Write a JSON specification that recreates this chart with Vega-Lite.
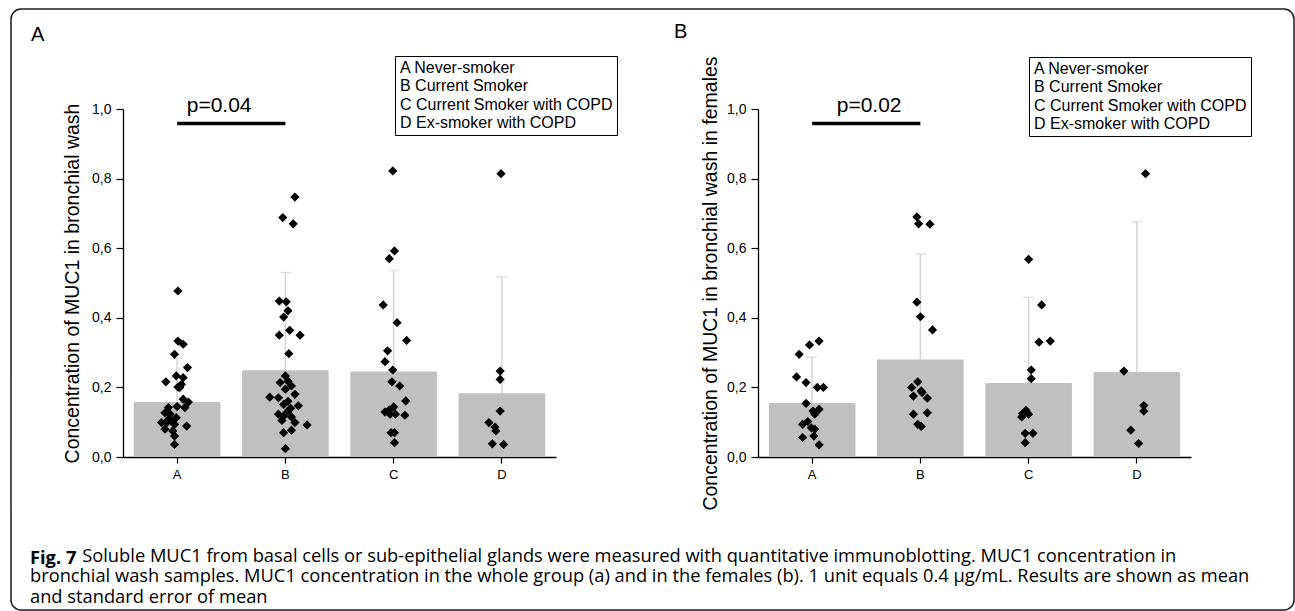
{
  "$schema": "https://vega.github.io/schema/vega-lite/v6.json",
  "autosize": {"type": "pad"},
  "padding": {"left": 10, "top": 8, "right": 1, "bottom": 1},
  "background": "white",
  "datasets": {
    "bars": [
      {"p": "A", "g": "A", "mean": 0.158, "upper": 0.283},
      {"p": "A", "g": "B", "mean": 0.249, "upper": 0.530},
      {"p": "A", "g": "C", "mean": 0.246, "upper": 0.536},
      {"p": "A", "g": "D", "mean": 0.183, "upper": 0.518},
      {"p": "B", "g": "A", "mean": 0.155, "upper": 0.287},
      {"p": "B", "g": "B", "mean": 0.280, "upper": 0.583},
      {"p": "B", "g": "C", "mean": 0.213, "upper": 0.459},
      {"p": "B", "g": "D", "mean": 0.244, "upper": 0.676}
    ],
    "signif": [
      {"p": "A", "g": "A", "g2": "B", "y": 0.958, "ty": 0.99, "label": "p=0.04"},
      {"p": "B", "g": "A", "g2": "B", "y": 0.958, "ty": 0.99, "label": "p=0.02"}
    ],
    "points": [
      {"p": "A", "g": "A", "v": 0.477, "j": 0.01},
      {"p": "A", "g": "A", "v": 0.333, "j": 0.01},
      {"p": "A", "g": "A", "v": 0.324, "j": 0.07},
      {"p": "A", "g": "A", "v": 0.295, "j": -0.03},
      {"p": "A", "g": "A", "v": 0.257, "j": 0.12},
      {"p": "A", "g": "A", "v": 0.233, "j": -0.01},
      {"p": "A", "g": "A", "v": 0.228, "j": 0.07},
      {"p": "A", "g": "A", "v": 0.216, "j": -0.13},
      {"p": "A", "g": "A", "v": 0.209, "j": 0.05},
      {"p": "A", "g": "A", "v": 0.201, "j": 0.01},
      {"p": "A", "g": "A", "v": 0.200, "j": 0.03},
      {"p": "A", "g": "A", "v": 0.166, "j": 0.07},
      {"p": "A", "g": "A", "v": 0.158, "j": 0.13},
      {"p": "A", "g": "A", "v": 0.145, "j": 0.0},
      {"p": "A", "g": "A", "v": 0.142, "j": 0.09},
      {"p": "A", "g": "A", "v": 0.142, "j": -0.10},
      {"p": "A", "g": "A", "v": 0.127, "j": -0.14},
      {"p": "A", "g": "A", "v": 0.123, "j": -0.08},
      {"p": "A", "g": "A", "v": 0.113, "j": -0.01},
      {"p": "A", "g": "A", "v": 0.108, "j": -0.10},
      {"p": "A", "g": "A", "v": 0.103, "j": -0.07},
      {"p": "A", "g": "A", "v": 0.099, "j": -0.18},
      {"p": "A", "g": "A", "v": 0.099, "j": -0.12},
      {"p": "A", "g": "A", "v": 0.094, "j": -0.03},
      {"p": "A", "g": "A", "v": 0.089, "j": 0.11},
      {"p": "A", "g": "A", "v": 0.080, "j": -0.14},
      {"p": "A", "g": "A", "v": 0.075, "j": -0.05},
      {"p": "A", "g": "A", "v": 0.060, "j": -0.03},
      {"p": "A", "g": "A", "v": 0.036, "j": -0.03},
      {"p": "A", "g": "B", "v": 0.747, "j": 0.11},
      {"p": "A", "g": "B", "v": 0.688, "j": -0.03},
      {"p": "A", "g": "B", "v": 0.670, "j": 0.09},
      {"p": "A", "g": "B", "v": 0.448, "j": -0.07},
      {"p": "A", "g": "B", "v": 0.446, "j": 0.01},
      {"p": "A", "g": "B", "v": 0.420, "j": 0.03},
      {"p": "A", "g": "B", "v": 0.402, "j": -0.02},
      {"p": "A", "g": "B", "v": 0.364, "j": 0.05},
      {"p": "A", "g": "B", "v": 0.350, "j": -0.07},
      {"p": "A", "g": "B", "v": 0.350, "j": 0.17},
      {"p": "A", "g": "B", "v": 0.297, "j": 0.04},
      {"p": "A", "g": "B", "v": 0.233, "j": 0.0},
      {"p": "A", "g": "B", "v": 0.218, "j": 0.03},
      {"p": "A", "g": "B", "v": 0.214, "j": -0.06},
      {"p": "A", "g": "B", "v": 0.204, "j": 0.07},
      {"p": "A", "g": "B", "v": 0.195, "j": 0.0},
      {"p": "A", "g": "B", "v": 0.180, "j": 0.11},
      {"p": "A", "g": "B", "v": 0.172, "j": -0.18},
      {"p": "A", "g": "B", "v": 0.170, "j": -0.08},
      {"p": "A", "g": "B", "v": 0.160, "j": 0.03},
      {"p": "A", "g": "B", "v": 0.151, "j": -0.02},
      {"p": "A", "g": "B", "v": 0.147, "j": 0.15},
      {"p": "A", "g": "B", "v": 0.140, "j": 0.06},
      {"p": "A", "g": "B", "v": 0.132, "j": 0.03},
      {"p": "A", "g": "B", "v": 0.123, "j": -0.08},
      {"p": "A", "g": "B", "v": 0.118, "j": -0.02},
      {"p": "A", "g": "B", "v": 0.115, "j": 0.07},
      {"p": "A", "g": "B", "v": 0.105, "j": -0.04},
      {"p": "A", "g": "B", "v": 0.099, "j": 0.11},
      {"p": "A", "g": "B", "v": 0.092, "j": 0.25},
      {"p": "A", "g": "B", "v": 0.077, "j": 0.07},
      {"p": "A", "g": "B", "v": 0.070, "j": -0.02},
      {"p": "A", "g": "B", "v": 0.024, "j": 0.0},
      {"p": "A", "g": "C", "v": 0.822, "j": -0.01},
      {"p": "A", "g": "C", "v": 0.592, "j": 0.01},
      {"p": "A", "g": "C", "v": 0.570, "j": -0.05},
      {"p": "A", "g": "C", "v": 0.437, "j": -0.12},
      {"p": "A", "g": "C", "v": 0.386, "j": 0.04},
      {"p": "A", "g": "C", "v": 0.335, "j": 0.15},
      {"p": "A", "g": "C", "v": 0.305, "j": -0.07},
      {"p": "A", "g": "C", "v": 0.274, "j": -0.10},
      {"p": "A", "g": "C", "v": 0.250, "j": -0.01},
      {"p": "A", "g": "C", "v": 0.216, "j": -0.02},
      {"p": "A", "g": "C", "v": 0.204, "j": 0.07},
      {"p": "A", "g": "C", "v": 0.161, "j": 0.14},
      {"p": "A", "g": "C", "v": 0.144, "j": 0.0},
      {"p": "A", "g": "C", "v": 0.135, "j": -0.05},
      {"p": "A", "g": "C", "v": 0.129, "j": -0.10},
      {"p": "A", "g": "C", "v": 0.123, "j": -0.04},
      {"p": "A", "g": "C", "v": 0.123, "j": 0.02},
      {"p": "A", "g": "C", "v": 0.120, "j": 0.13},
      {"p": "A", "g": "C", "v": 0.070, "j": -0.03},
      {"p": "A", "g": "C", "v": 0.070, "j": 0.01},
      {"p": "A", "g": "C", "v": 0.041, "j": 0.01},
      {"p": "A", "g": "D", "v": 0.814, "j": -0.01},
      {"p": "A", "g": "D", "v": 0.247, "j": -0.02},
      {"p": "A", "g": "D", "v": 0.223, "j": -0.02},
      {"p": "A", "g": "D", "v": 0.132, "j": -0.02},
      {"p": "A", "g": "D", "v": 0.099, "j": -0.15},
      {"p": "A", "g": "D", "v": 0.086, "j": -0.08},
      {"p": "A", "g": "D", "v": 0.075, "j": -0.07},
      {"p": "A", "g": "D", "v": 0.038, "j": -0.11},
      {"p": "A", "g": "D", "v": 0.036, "j": 0.02},
      {"p": "B", "g": "A", "v": 0.333, "j": 0.08},
      {"p": "B", "g": "A", "v": 0.322, "j": -0.03},
      {"p": "B", "g": "A", "v": 0.295, "j": -0.15},
      {"p": "B", "g": "A", "v": 0.230, "j": -0.18},
      {"p": "B", "g": "A", "v": 0.214, "j": -0.07},
      {"p": "B", "g": "A", "v": 0.200, "j": 0.06},
      {"p": "B", "g": "A", "v": 0.200, "j": 0.13},
      {"p": "B", "g": "A", "v": 0.154, "j": -0.07},
      {"p": "B", "g": "A", "v": 0.137, "j": 0.08},
      {"p": "B", "g": "A", "v": 0.132, "j": 0.01},
      {"p": "B", "g": "A", "v": 0.123, "j": 0.03},
      {"p": "B", "g": "A", "v": 0.102, "j": -0.05},
      {"p": "B", "g": "A", "v": 0.094, "j": -0.11},
      {"p": "B", "g": "A", "v": 0.084, "j": -0.01},
      {"p": "B", "g": "A", "v": 0.080, "j": 0.03},
      {"p": "B", "g": "A", "v": 0.060, "j": 0.02},
      {"p": "B", "g": "A", "v": 0.056, "j": -0.11},
      {"p": "B", "g": "A", "v": 0.035, "j": 0.08},
      {"p": "B", "g": "B", "v": 0.690, "j": -0.04},
      {"p": "B", "g": "B", "v": 0.670, "j": -0.02},
      {"p": "B", "g": "B", "v": 0.669, "j": 0.11},
      {"p": "B", "g": "B", "v": 0.445, "j": -0.04},
      {"p": "B", "g": "B", "v": 0.403, "j": 0.0},
      {"p": "B", "g": "B", "v": 0.365, "j": 0.14},
      {"p": "B", "g": "B", "v": 0.216, "j": -0.03},
      {"p": "B", "g": "B", "v": 0.200, "j": -0.10},
      {"p": "B", "g": "B", "v": 0.190, "j": 0.01},
      {"p": "B", "g": "B", "v": 0.185, "j": 0.02},
      {"p": "B", "g": "B", "v": 0.175, "j": -0.08},
      {"p": "B", "g": "B", "v": 0.169, "j": 0.08},
      {"p": "B", "g": "B", "v": 0.127, "j": 0.08},
      {"p": "B", "g": "B", "v": 0.123, "j": -0.08},
      {"p": "B", "g": "B", "v": 0.094, "j": -0.03},
      {"p": "B", "g": "B", "v": 0.088, "j": 0.01},
      {"p": "B", "g": "C", "v": 0.568, "j": 0.0},
      {"p": "B", "g": "C", "v": 0.437, "j": 0.15},
      {"p": "B", "g": "C", "v": 0.333, "j": 0.25},
      {"p": "B", "g": "C", "v": 0.330, "j": 0.12},
      {"p": "B", "g": "C", "v": 0.250, "j": 0.03},
      {"p": "B", "g": "C", "v": 0.225, "j": 0.03},
      {"p": "B", "g": "C", "v": 0.134, "j": -0.03},
      {"p": "B", "g": "C", "v": 0.125, "j": -0.07},
      {"p": "B", "g": "C", "v": 0.123, "j": 0.0},
      {"p": "B", "g": "C", "v": 0.115, "j": -0.08},
      {"p": "B", "g": "C", "v": 0.068, "j": -0.04},
      {"p": "B", "g": "C", "v": 0.068, "j": 0.05},
      {"p": "B", "g": "C", "v": 0.041, "j": -0.04},
      {"p": "B", "g": "D", "v": 0.814, "j": 0.10},
      {"p": "B", "g": "D", "v": 0.247, "j": -0.15},
      {"p": "B", "g": "D", "v": 0.148, "j": 0.08},
      {"p": "B", "g": "D", "v": 0.132, "j": 0.08},
      {"p": "B", "g": "D", "v": 0.077, "j": -0.07},
      {"p": "B", "g": "D", "v": 0.039, "j": 0.02}
    ]
  },
  "vconcat": [
    {
      "hconcat": [
        {
          "width": 112,
          "height": 1,
          "view": {"stroke": null},
          "data": {"values": []},
          "mark": "point"
        },
        {
          "vconcat": [
            {
              "width": 1,
              "height": 100,
              "view": {"stroke": null},
              "data": {"values": []},
              "mark": "point"
            },
            {
              "hconcat": [
                {
                  "width": 433,
                  "height": 348,
                  "view": {"stroke": null},
                  "title": {"text": "A", "anchor": "start", "frame": "group", "baseline": "alphabetic", "dx": -92, "offset": -5, "fontSize": 20, "fontWeight": "normal"},
                  "resolve": {"scale": {"xOffset": "independent"}},
                  "encoding": {
                    "x": {
                      "field": "g",
                      "type": "nominal",
                      "scale": {"domain": ["A", "B", "C", "D"], "paddingInner": 0.2, "paddingOuter": 0.1},
                      "axis": {"title": null, "labelAngle": 0, "labelFontSize": 13, "tickSize": 6, "labelPadding": 5, "domainWidth": 1.3, "tickWidth": 1.2}
                    }
                  },
                  "layer": [
                    {
                      "data": {"name": "bars"},
                      "transform": [{"filter": "datum.p == 'A'"}],
                      "mark": {"type": "bar"},
                      "encoding": {
                        "y": {
                          "field": "mean",
                          "type": "quantitative",
                          "scale": {"domain": [0, 1], "nice": false},
                          "axis": {
                            "title": "Concentration of MUC1 in bronchial wash",
                            "values": [0, 0.1, 0.2, 0.3, 0.4, 0.5, 0.6, 0.7, 0.8, 0.9, 1.0],
                            "labelExpr": "round(datum.value * 10) % 2 == 0 ? replace(format(datum.value, '.1f'), '.', ',') : ''",
                            "tickSize": {"condition": {"test": "round(datum.value * 10) % 2 == 0", "value": 7}, "value": 4},
                            "labelFontSize": 14,
                            "labelPadding": 5,
                            "titleFontSize": 19.5,
                            "titlePadding": 9,
                            "domainWidth": 1.3,
                            "tickWidth": 1.2
                          }
                        },
                        "color": {
                          "field": "g",
                          "type": "nominal",
                          "scale": {"domain": ["A", "B", "C", "D"], "range": ["#c0c0c0", "#c0c0c0", "#c0c0c0", "#c0c0c0"]},
                          "legend": {
                            "orient": "none", "legendX": 272, "legendY": -53,
                            "title": null,
                            "symbolSize": 0, "symbolStrokeWidth": 0, "labelOffset": -15, "symbolType": "circle",
                            "labelExpr": "{'A': 'A Never-smoker', 'B': 'B Current Smoker', 'C': 'C Current Smoker with COPD', 'D': 'D Ex-smoker with COPD'}[datum.label]"
                          }
                        }
                      }
                    },
                    {
                      "data": {"name": "bars"},
                      "transform": [{"filter": "datum.p == 'A'"}],
                      "mark": {"type": "rule", "color": "#d4d4d4", "strokeWidth": 1.5},
                      "encoding": {"y": {"field": "mean", "type": "quantitative"}, "y2": {"field": "upper"}}
                    },
                    {
                      "data": {"name": "bars"},
                      "transform": [{"filter": "datum.p == 'A'"}],
                      "mark": {"type": "tick", "color": "#d4d4d4", "thickness": 1.5, "size": 11},
                      "encoding": {"y": {"field": "upper", "type": "quantitative"}}
                    },
                    {
                      "data": {"name": "points"},
                      "transform": [{"filter": "datum.p == 'A'"}],
                      "mark": {"type": "point", "shape": "diamond", "filled": true, "color": "black", "opacity": 1, "size": 85},
                      "encoding": {
                        "y": {"field": "v", "type": "quantitative"},
                        "xOffset": {"field": "j", "type": "quantitative", "scale": {"domain": [-0.5, 0.5]}}
                      }
                    },
                    {
                      "data": {"name": "signif"},
                      "transform": [{"filter": "datum.p == 'A'"}],
                      "mark": {"type": "rule", "color": "black", "strokeWidth": 3.5},
                      "encoding": {"y": {"field": "y", "type": "quantitative"}, "x2": {"field": "g2"}}
                    },
                    {
                      "data": {"name": "signif"},
                      "transform": [{"filter": "datum.p == 'A'"}],
                      "mark": {"type": "text", "fontSize": 21, "align": "center", "baseline": "alphabetic", "dx": 42, "color": "black"},
                      "encoding": {"y": {"field": "ty", "type": "quantitative"}, "text": {"field": "label"}}
                    }
                  ]
                },
                {
                  "width": 433,
                  "height": 348,
                  "view": {"stroke": null},
                  "title": {"text": "B", "anchor": "start", "frame": "group", "baseline": "alphabetic", "dx": -84, "offset": -5, "fontSize": 20, "fontWeight": "normal"},
                  "resolve": {"scale": {"xOffset": "independent"}},
                  "encoding": {
                    "x": {
                      "field": "g",
                      "type": "nominal",
                      "scale": {"domain": ["A", "B", "C", "D"], "paddingInner": 0.2, "paddingOuter": 0.1},
                      "axis": {"title": null, "labelAngle": 0, "labelFontSize": 13, "tickSize": 6, "labelPadding": 5, "domainWidth": 1.3, "tickWidth": 1.2}
                    }
                  },
                  "layer": [
                    {
                      "data": {"name": "bars"},
                      "transform": [{"filter": "datum.p == 'B'"}],
                      "mark": {"type": "bar"},
                      "encoding": {
                        "y": {
                          "field": "mean",
                          "type": "quantitative",
                          "scale": {"domain": [0, 1], "nice": false},
                          "axis": {
                            "title": "Concentration of  MUC1 in bronchial wash in females",
                            "values": [0, 0.1, 0.2, 0.3, 0.4, 0.5, 0.6, 0.7, 0.8, 0.9, 1.0],
                            "labelExpr": "round(datum.value * 10) % 2 == 0 ? replace(format(datum.value, '.1f'), '.', ',') : ''",
                            "tickSize": {"condition": {"test": "round(datum.value * 10) % 2 == 0", "value": 7}, "value": 4},
                            "labelFontSize": 14,
                            "labelPadding": 5,
                            "titleFontSize": 19.5,
                            "titlePadding": 6,
                            "domainWidth": 1.3,
                            "tickWidth": 1.2
                          }
                        },
                        "color": {
                          "field": "g",
                          "type": "nominal",
                          "scale": {"domain": ["A", "B", "C", "D"], "range": ["#c0c0c0", "#c0c0c0", "#c0c0c0", "#c0c0c0"]},
                          "legend": {
                            "orient": "none", "legendX": 271, "legendY": -52,
                            "title": null,
                            "symbolSize": 0, "symbolStrokeWidth": 0, "labelOffset": -15, "symbolType": "circle",
                            "labelExpr": "{'A': 'A Never-smoker', 'B': 'B Current Smoker', 'C': 'C Current Smoker with COPD', 'D': 'D Ex-smoker with COPD'}[datum.label]"
                          }
                        }
                      }
                    },
                    {
                      "data": {"name": "bars"},
                      "transform": [{"filter": "datum.p == 'B'"}],
                      "mark": {"type": "rule", "color": "#d4d4d4", "strokeWidth": 1.5},
                      "encoding": {"y": {"field": "mean", "type": "quantitative"}, "y2": {"field": "upper"}}
                    },
                    {
                      "data": {"name": "bars"},
                      "transform": [{"filter": "datum.p == 'B'"}],
                      "mark": {"type": "tick", "color": "#d4d4d4", "thickness": 1.5, "size": 11},
                      "encoding": {"y": {"field": "upper", "type": "quantitative"}}
                    },
                    {
                      "data": {"name": "points"},
                      "transform": [{"filter": "datum.p == 'B'"}],
                      "mark": {"type": "point", "shape": "diamond", "filled": true, "color": "black", "opacity": 1, "size": 85},
                      "encoding": {
                        "y": {"field": "v", "type": "quantitative"},
                        "xOffset": {"field": "j", "type": "quantitative", "scale": {"domain": [-0.5, 0.5]}}
                      }
                    },
                    {
                      "data": {"name": "signif"},
                      "transform": [{"filter": "datum.p == 'B'"}],
                      "mark": {"type": "rule", "color": "black", "strokeWidth": 3.5},
                      "encoding": {"y": {"field": "y", "type": "quantitative"}, "x2": {"field": "g2"}}
                    },
                    {
                      "data": {"name": "signif"},
                      "transform": [{"filter": "datum.p == 'B'"}],
                      "mark": {"type": "text", "fontSize": 21, "align": "center", "baseline": "alphabetic", "dx": 57, "color": "black"},
                      "encoding": {"y": {"field": "ty", "type": "quantitative"}, "text": {"field": "label"}}
                    }
                  ]
                }
              ],
              "spacing": 202,
              "bounds": "flush",
              "resolve": {"scale": {"color": "independent", "x": "independent", "y": "independent"}, "legend": {"color": "independent"}}
            }
          ],
          "spacing": 0,
          "bounds": "flush"
        }
      ],
      "spacing": 0,
      "bounds": "flush"
    },
    {
      "width": 1283,
      "height": 601,
      "view": {"stroke": "#1a1a1a", "strokeWidth": 1.5, "cornerRadius": 10, "fill": null},
      "data": {"values": []},
      "mark": "point",
      "title": {
        "text": "Fig. 7",
        "subtitle": [
          "\u200b\u00a0\u00a0\u00a0\u00a0\u00a0\u00a0\u00a0\u00a0\u00a0\u00a0\u00a0Soluble MUC1 from basal cells or sub-epithelial glands were measured with quantitative immunoblotting. MUC1 concentration in",
          "bronchial wash samples. MUC1 concentration in the whole group (a) and in the females (b). 1 unit equals 0.4 μg/mL. Results are shown as mean",
          "and standard error of mean"
        ],
        "orient": "bottom",
        "anchor": "start",
        "offset": -60,
        "dx": 19,
        "font": "Open Sans",
        "fontSize": 18.3,
        "fontWeight": "bold",
        "color": "black",
        "subtitleFont": "Open Sans",
        "subtitleFontSize": 18.3,
        "subtitleColor": "black",
        "subtitleLineHeight": 20.5,
        "subtitlePadding": -20.5
      }
    }
  ],
  "spacing": 0,
  "bounds": "flush",
  "config": {
    "font": "Liberation Sans",
    "axis": {
      "labelFont": "Liberation Sans",
      "titleFont": "Liberation Sans",
      "titleFontWeight": "normal",
      "domainColor": "black",
      "tickColor": "black",
      "labelColor": "black",
      "titleColor": "black",
      "grid": false
    },
    "legend": {
      "labelFont": "Liberation Sans",
      "labelFontSize": 16,
      "labelColor": "black",
      "labelLimit": 400,
      "symbolOpacity": 0,
      "strokeColor": "black",
      "fillColor": "white",
      "padding": 4,
      "rowPadding": 2.3,
      "cornerRadius": 0
    },
    "title": {"font": "Liberation Sans", "color": "black"}
  }
}
